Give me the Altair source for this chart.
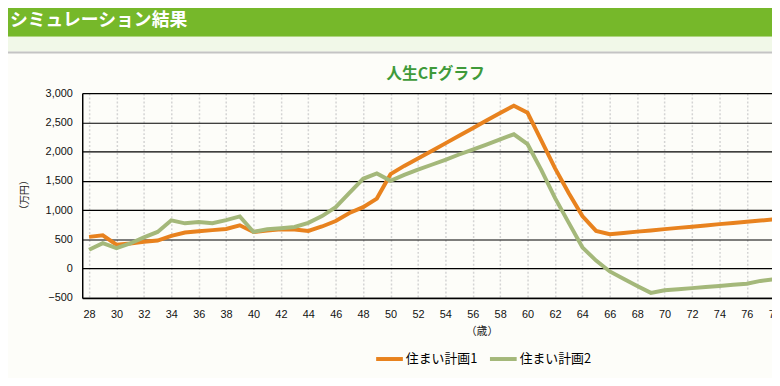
import altair as alt
import pandas as pd

ages = list(range(28, 79))
plan1 = [543, 570, 410, 430, 458, 480, 560, 617, 640, 658, 678, 740, 627, 650, 673, 670,
         645, 720, 813, 950, 1050, 1197, 1614, 1755, 1880, 2010, 2140, 2270, 2400, 2530,
         2660, 2785, 2662, 2192, 1716, 1293, 898, 645, 588, 610, 632, 653, 675, 696, 717,
         738, 760, 780, 800, 822, 842]
plan2 = [323, 436, 352, 430, 533, 627, 825, 774, 796, 775, 830, 893, 627, 673, 690, 712,
         783, 898, 1050, 1293, 1535, 1625, 1501, 1602, 1690, 1775, 1860, 1950, 2035, 2120,
         2210, 2295, 2126, 1687, 1208, 786, 364, 137, -48, -172, -296, -414, -370, -352,
         -333, -314, -295, -276, -257, -210, -180]
series_names = ["住まい計画1", "住まい計画2"]
series_colors = ["#e8821e", "#a4b87a"]
x_ticks = list(range(28, 80, 2))
y_ticks = list(range(-500, 3001, 500))

rows = []
for name, vals in zip(series_names, [plan1, plan2]):
    for a, v in zip(ages, vals):
        rows.append({"age": a, "value": v, "plan": name})
df = pd.DataFrame(rows)

JP = "Noto Sans CJK JP"
LAT = "Liberation Sans"
one = pd.DataFrame({"a": [0]})

def box(x, x2, y, y2, color):
    return alt.Chart(one).mark_rect(color=color).encode(
        x=alt.value(x), x2=alt.value(x2), y=alt.value(y), y2=alt.value(y2))

header = box(-80, 720, -90, -57, "#76b82a")
band = box(-80, 720, -57, -42, "#f1f8e8")
sep = box(-80, 720, -42, -40, "#c4c4c4")

head_text = alt.Chart(one).mark_text(
    text="シミュレーション結果", font=JP, fontSize=18, fontWeight="bold",
    color="#ffffff", align="left", baseline="middle"
).encode(x=alt.value(-73), y=alt.value(-73))

title_text = alt.Chart(one).mark_text(
    text="人生CFグラフ", font=JP, fontSize=16, fontWeight="bold",
    color="#3f9a3a", align="center", baseline="middle"
).encode(x=alt.value(357), y=alt.value(-19))

ytitle = alt.Chart(one).mark_text(
    text="（万円）", font=JP, fontSize=10, color="#222222", angle=270,
    align="center", baseline="middle"
).encode(x=alt.value(-58), y=alt.value(103))

xtitle = alt.Chart(one).mark_text(
    text="（歳）", font=JP, fontSize=11, color="#222222",
    align="center", baseline="middle"
).encode(x=alt.value(404), y=alt.value(241))

lines = alt.Chart(df).mark_line(strokeWidth=4).encode(
    x=alt.X("age:Q",
            scale=alt.Scale(domain=[27.5, 79.5], range=[0, 720], nice=False, zero=False),
            axis=alt.Axis(values=x_ticks, format="d", title=None, grid=True,
                          gridColor="#d4d4d4", gridDash=[2, 2], gridWidth=1.5,
                          domainColor="#000000", domainWidth=1.5, ticks=False,
                          labelPadding=11, labelFont=LAT, labelFontSize=11,
                          labelColor="#111111")),
    y=alt.Y("value:Q",
            scale=alt.Scale(domain=[-500, 3000], nice=False),
            axis=alt.Axis(values=y_ticks, format=",d", title=None, grid=True,
                          gridColor="#000000", gridWidth=1.2, domainColor="#000000",
                          domainWidth=1.5, ticks=False, labelPadding=10,
                          labelFont=LAT, labelFontSize=11, labelColor="#111111")),
    color=alt.Color("plan:N",
                    scale=alt.Scale(domain=series_names, range=series_colors),
                    legend=alt.Legend(orient="none", legendX=295, legendY=253,
                                      direction="horizontal", title=None,
                                      symbolType="stroke", symbolSize=729,
                                      symbolStrokeWidth=4, labelFont=JP,
                                      labelFontSize=13, labelColor="#000000",
                                      labelOffset=1, columnPadding=4)),
)

chart = alt.layer(header, band, sep, head_text, title_text, ytitle, xtitle, lines).properties(
    width=697, height=207,
    autosize=alt.AutoSizeParams(type="none"),
    padding={"left": 75, "top": 84, "right": 0, "bottom": 79},
    background="#fdfdf9",
).configure_view(stroke=None)

chart.save("out.html", embed_options={"renderer": "svg", "actions": False})
